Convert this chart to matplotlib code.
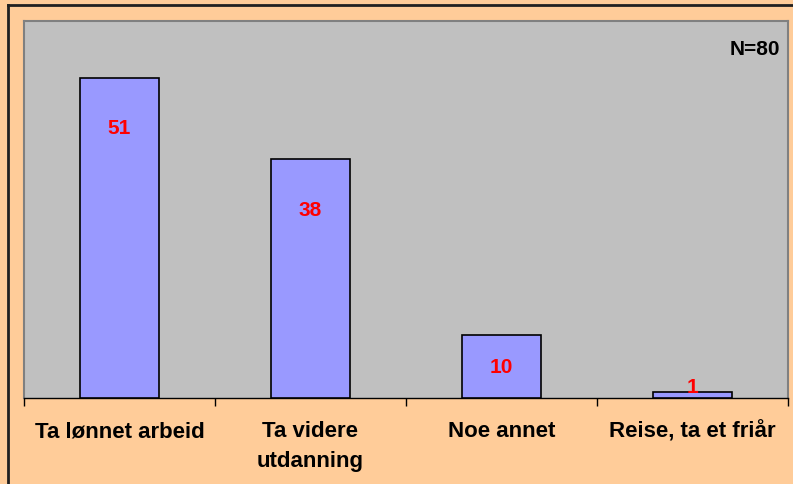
import matplotlib.pyplot as plt
from matplotlib.lines import Line2D

categories = ['Ta lønnet arbeid', 'Ta videre\nutdanning', 'Noe annet', 'Reise, ta et friår']
values = [51, 38, 10, 1]
n_text = 'N=80'

plt.rcParams['font.family'] = ['Liberation Sans', 'DejaVu Sans']
plt.rcParams['font.weight'] = 'bold'

fig = plt.figure(figsize=(7.93, 4.85), dpi=100, facecolor='#FFCC99')
W, H = 793, 485
ax = fig.add_axes([24 / W, 1 - 399 / H, (788 - 24) / W, (399 - 22) / H])
ax.set_facecolor('#C0C0C0')

x = range(len(categories))
ax.bar(x, values, width=0.41, color='#9999FF', edgecolor='black', linewidth=1.2, zorder=3)

# excel-style label placement: near the top of tall bars, centred on short ones
for i, v in enumerate(values):
    y = max(v - 8, v / 2, 1.8)
    ax.text(i, y, str(v), color='red', ha='center', va='center',
            fontsize=15, fontweight='bold', zorder=4)

ax.set_xlim(-0.5, len(categories) - 0.5)
ax.set_ylim(0, 60)
ax.set_yticks([])

ax.set_xticks(x)
ax.set_xticklabels(categories, fontsize=16, fontweight='bold', linespacing=1.55)
ax.tick_params(axis='x', length=0, pad=16)
ax.set_xticks([i - 0.5 for i in range(len(categories) + 1)], minor=True)
ax.tick_params(axis='x', which='minor', length=6, width=1, color='black', direction='out')

for side in ['top', 'left', 'right']:
    ax.spines[side].set_color('#808080')
    ax.spines[side].set_linewidth(1.5)
ax.spines['bottom'].set_color('black')
ax.spines['bottom'].set_linewidth(1)

ax.text(0.9895, 0.926, n_text, transform=ax.transAxes, ha='right', va='center',
        fontsize=15, fontweight='bold', color='black')

# outer chart border (only left and top show in the crop)
fig.add_artist(Line2D([8 / W, 8 / W], [0, 1 - 6 / H], color='#202020', linewidth=2))
fig.add_artist(Line2D([8 / W, 1], [1 - 6 / H, 1 - 6 / H], color='#202020', linewidth=2))

fig.savefig('out.png', dpi=100, facecolor=fig.get_facecolor())
